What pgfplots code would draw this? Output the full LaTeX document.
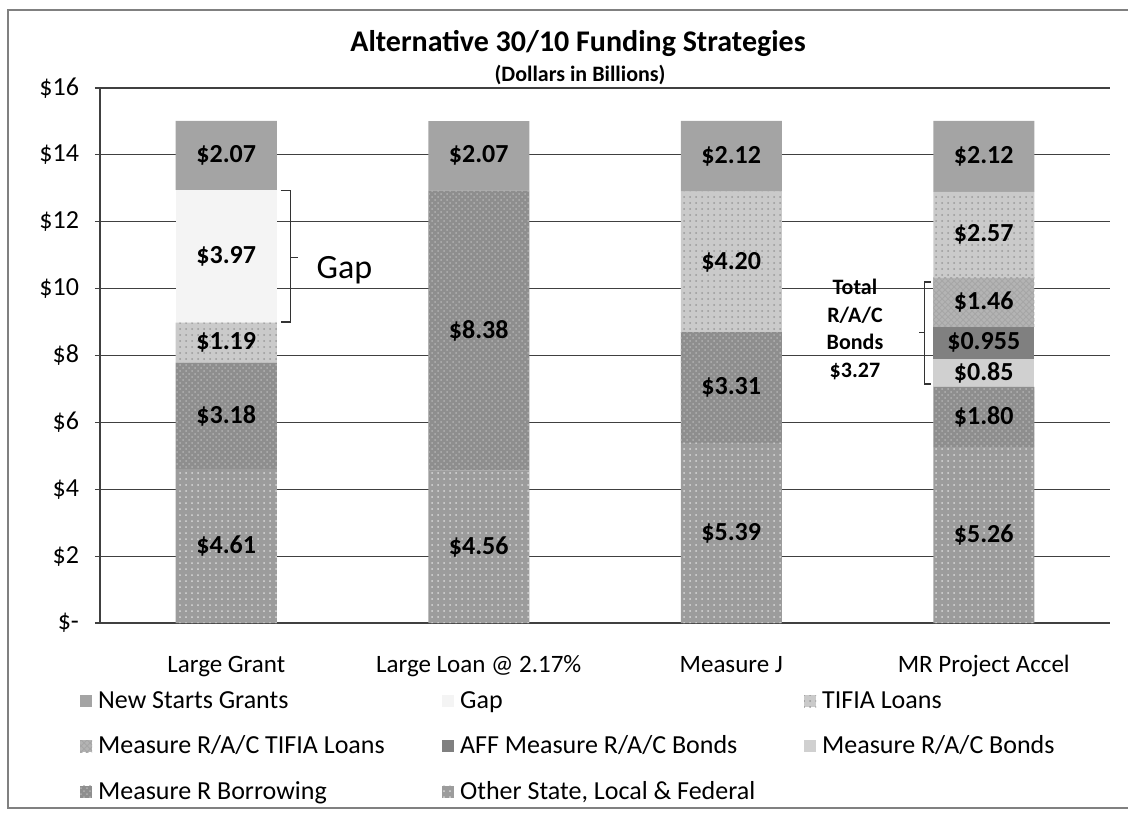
\documentclass[border=0pt]{standalone}
\usepackage{pgfplots}
\pgfplotsset{compat=1.18}
\usepackage{pgfplotstable}
\usetikzlibrary{patterns}
\usepackage{fontspec}
\setmainfont{Carlito}
\definecolor{cOther}{HTML}{9C9C9C}
\definecolor{cBorrow}{HTML}{8E8E8E}
\definecolor{cBonds}{HTML}{D0D0D0}
\definecolor{cAFF}{HTML}{808080}
\definecolor{cRACT}{HTML}{B4B4B4}
\definecolor{cTIFIA}{HTML}{CACACA}
\definecolor{cGap}{HTML}{F4F4F4}
\definecolor{cNew}{HTML}{A4A4A4}

\pgfplotstableread{
x v lab
0 4.61 \$4.61
1 4.56 \$4.56
2 5.39 \$5.39
3 5.26 \$5.26
}\tOther
\pgfplotstableread{
x v lab
0 3.18 \$3.18
1 8.38 \$8.38
2 3.31 \$3.31
3 1.80 \$1.80
}\tBorrow
\pgfplotstableread{
x v lab
0 0 {}
1 0 {}
2 0 {}
3 0.85 \$0.85
}\tBonds
\pgfplotstableread{
x v lab
0 0 {}
1 0 {}
2 0 {}
3 0.955 \$0.955
}\tAFF
\pgfplotstableread{
x v lab
0 0 {}
1 0 {}
2 0 {}
3 1.46 \$1.46
}\tRACT
\pgfplotstableread{
x v lab
0 1.19 \$1.19
1 0 {}
2 4.20 \$4.20
3 2.57 \$2.57
}\tTIFIA
\pgfplotstableread{
x v lab
0 3.97 \$3.97
1 0 {}
2 0 {}
3 0 {}
}\tGap
\pgfplotstableread{
x v lab
0 2.07 \$2.07
1 2.07 \$2.07
2 2.12 \$2.12
3 2.12 \$2.12
}\tNew

\newcommand{\lgd}[1]{\makebox[170pt][l]{#1}}

\begin{document}
\begin{tikzpicture}[x=1pt,y=1pt]
\useasboundingbox (-50,-96) rectangle (514,311.5);
\draw[black!50, line width=0.6pt] (520,306.5) -- (-46,306.5) -- (-46,-92.5) -- (520,-92.5);
\node[font=\bfseries\fontsize{15}{18}\selectfont] at (239,290) {Alternative 30/10 Funding Strategies};
\node[font=\bfseries\fontsize{11}{13}\selectfont] at (240,274) {(Dollars in Billions)};
\begin{axis}[
  at={(0pt,0pt)}, anchor=south west,
  width=505pt, height=267.5pt, scale only axis,
  xmin=-0.5, xmax=3.5, ymin=0, ymax=16,
  enlargelimits=false,
  ybar stacked, bar width=0.4,
  axis x line*=bottom, axis y line*=left,
  axis line style={black!75, line width=0.6pt},
  xtick={0,1,2,3},
  xticklabels={Large Grant, Large Loan @ 2.17\%, Measure J, MR Project Accel},
  x tick style={draw=none},
  minor xtick={-0.5,0.5,1.5,2.5,3.5},
  minor tick length=3pt,
  tick align=outside,
  major tick length=2.5pt,
  y tick style={black!75, line width=0.6pt},
  minor x tick style={black!75, line width=0.6pt},
  ytick={0,2,...,16},
  yticklabels={\$-,\$2,\$4,\$6,\$8,\$10,\$12,\$14,\$16},
  ymajorgrids,
  major grid style={black!75, line width=0.6pt},
  xticklabel style={font=\fontsize{12.5}{15}\selectfont, text height=9.5pt, text depth=3pt, yshift=-9pt},
  yticklabel style={font=\fontsize{13}{15}\selectfont, xshift=-4.5pt},
  point meta=explicit symbolic,
  nodes near coords={\pgfplotspointmeta},
  every node near coord/.append style={anchor=center, black,
     font=\bfseries\fontsize{13}{15}\selectfont},
  legend columns=3, reverse legend,
  legend cell align=left,
  legend image code/.code={\path[#1, draw=none] (0pt,-3pt) rectangle (6pt,3pt);},
  legend style={draw=none, fill=none, at={(axis description cs:-0.026,-0.112)}, anchor=north west,
     font=\fontsize{13}{15}\selectfont, row sep=8.3pt,
     /tikz/every even column/.append style={column sep=0pt},
     /tikz/every odd column/.append style={column sep=1pt}},
]
\addplot[fill=cOther, draw=none, postaction={pattern=dots, pattern color=white!85!black}] table[x=x, y=v, meta=lab] {\tOther};
\addlegendentry{\lgd{Other State, Local \& Federal}}
\addplot[fill=cBorrow, draw=none, postaction={pattern=crosshatch dots, pattern color=white!70!black}] table[x=x, y=v, meta=lab] {\tBorrow};
\addlegendentry{\lgd{Measure R Borrowing}}
\addplot[fill=cBonds, draw=none] table[x=x, y=v, meta=lab] {\tBonds};
\addlegendentry{\lgd{Measure R/A/C Bonds}}
\addplot[fill=cAFF, draw=none] table[x=x, y=v, meta=lab] {\tAFF};
\addlegendentry{\lgd{AFF Measure R/A/C Bonds}}
\addplot[fill=cRACT, draw=none, postaction={pattern=crosshatch, pattern color=black!35}] table[x=x, y=v, meta=lab] {\tRACT};
\addlegendentry{\lgd{Measure R/A/C TIFIA Loans}}
\addplot[fill=cTIFIA, draw=none, postaction={pattern=dots, pattern color=black!40}] table[x=x, y=v, meta=lab] {\tTIFIA};
\addlegendentry{\lgd{TIFIA Loans}}
\addplot[fill=cGap, draw=none] table[x=x, y=v, meta=lab] {\tGap};
\addlegendentry{\lgd{Gap}}
\addplot[fill=cNew, draw=none] table[x=x, y=v, meta=lab] {\tNew};
\addlegendentry{\lgd{New Starts Grants}}

\draw[black!80, line width=0.6pt] (axis cs:0.215,12.93) -- (axis cs:0.255,12.93) -- (axis cs:0.255,9.0) -- (axis cs:0.215,9.0);
\draw[black!80, line width=0.6pt] (axis cs:0.255,10.93) -- (axis cs:0.285,10.93);
\node[anchor=west, font=\fontsize{17}{20}\selectfont] at (axis cs:0.33,10.55) {Gap};
\draw[black!80, line width=0.6pt] (axis cs:2.79,10.2) -- (axis cs:2.766,10.2) -- (axis cs:2.766,7.15) -- (axis cs:2.79,7.15);
\draw[black!80, line width=0.6pt] (axis cs:2.766,8.68) -- (axis cs:2.743,8.68);
\node[align=center, font=\bfseries\fontsize{11}{13.7}\selectfont] at (axis cs:2.49,8.78) {Total\\R/A/C\\Bonds\\\$3.27};
\end{axis}
\end{tikzpicture}
\end{document}
